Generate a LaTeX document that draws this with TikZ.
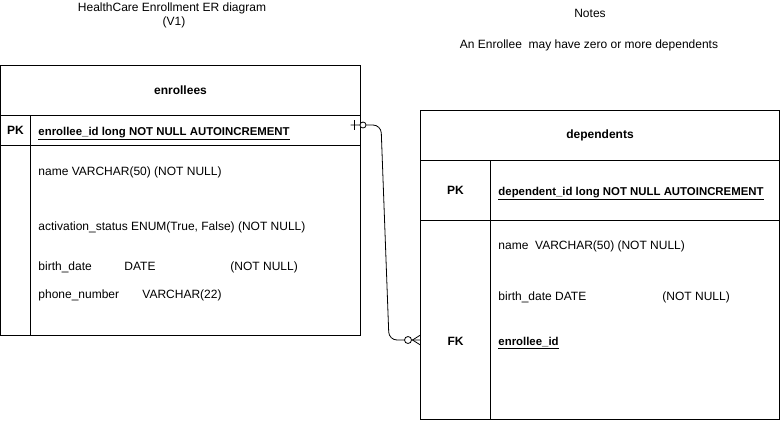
\documentclass[tikz,border=0pt]{standalone}
\usepackage{fontspec}
\setmainfont{Liberation Sans}
\usetikzlibrary{positioning}

\begin{document}
\fontsize{12}{14}\selectfont
\begin{tikzpicture}[x=1pt,y=-1pt,line width=0.9pt]
    % Styles for the table cells and texts
    \tikzset{
        cell/.style={draw, inner sep=0pt, outer sep=0pt, anchor=north west},
        field/.style={anchor=base west, inner sep=0pt},
        keyfield/.style={field, font=\fontsize{11.4}{14}\selectfont\bfseries},
        keyname/.style={inner sep=0pt, font=\bfseries},
        relation/.style={line width=0.8pt, rounded corners=8}
    }
    \useasboundingbox (0,0) rectangle (781,421);
    % Title and notes
    \node (title) at (172,8) {HealthCare Enrollment ER diagram};
    \node (version) at (174,22) {(V1)};
    \node (notes) at (590,13) {Notes};
    \node (notetext) at (589,45) {An Enrollee\ \ may have zero or more dependents};
    % Table enrollees
    \node[cell, minimum width=360, minimum height=50] (enrHead) at (0.5,65.5) {\bfseries enrollees};
    \node[cell, minimum width=30, minimum height=30] (enrPKKey) at (enrHead.south west) {\bfseries PK};
    \node[cell, minimum width=330, minimum height=30] (enrPK) at (enrPKKey.north east) {};
    \node[cell, minimum width=30, minimum height=190] (enrKeys) at (enrPKKey.south west) {};
    \node[cell, minimum width=330, minimum height=190] (enrFields) at (enrPK.south west) {};
    \node[keyfield] (enrPKText) at (38,135) {\underline{enrollee\_id long NOT NULL AUTOINCREMENT}};
    \foreach \i/\y/\txt in {1/175.5/{name VARCHAR(50) (NOT NULL)},
                            2/230.5/{activation\_status ENUM(True, False) (NOT NULL)},
                            3/270.5/{birth\_date},
                            4/298.5/{phone\_number}} {
        \node[field] (enrF\i) at (38,\y) {\txt};
    }
    \node[field] (enrF3type) at (124,270.5) {DATE};
    \node[field] (enrF3null) at (230,270.5) {(NOT NULL)};
    \node[field] (enrF4type) at (142,298.5) {VARCHAR(22)};
    % Table dependents
    \node[cell, minimum width=359, minimum height=50] (depHead) at (420.5,110.5) {\bfseries dependents};
    \node[cell, minimum width=70, minimum height=60] (depPKKey) at (depHead.south west) {\bfseries PK};
    \node[cell, minimum width=289, minimum height=60] (depPK) at (depPKKey.north east) {};
    \node[cell, minimum width=70, minimum height=199] (depKeys) at (depPKKey.south west) {};
    \node[cell, minimum width=289, minimum height=199] (depFields) at (depPK.south west) {};
    \node[keyfield] (depPKText) at (498,195) {\underline{dependent\_id long NOT NULL AUTOINCREMENT}};
    \node[field] (depF1) at (498,249.5) {name\ \ VARCHAR(50) (NOT NULL)};
    \node[field] (depF2) at (498,300.5) {birth\_date DATE};
    \node[field] (depF2null) at (662,300.5) {(NOT NULL)};
    \node[keyname] (depFKKey) at (455.5,341) {FK};
    \node[keyfield] (depFK) at (498,345.5) {\underline{enrollee\_id}};
    % Relation enrollees (zero or one) to dependents (zero or many)
    \coordinate (relStart) at ([xshift=-10pt,yshift=5.5pt]enrPK.east);
    \coordinate (bendA) at (381,125);
    \coordinate (bendB) at (389,340);
    \coordinate (relEnd) at (depKeys.west |- depFKKey);
    \draw[relation] (relStart) -- (bendA) -- (bendB) -- ([yshift=1pt]relEnd);
    \draw[line width=0.8pt] ([xshift=4pt,yshift=5pt]relStart) -- ([xshift=4pt,yshift=-5pt]relStart);
    \draw[line width=0.8pt, fill=white] (363,125) circle (3);
    \draw[line width=0.8pt] ([yshift=6pt]relEnd) -- ++(-8,5) -- ([yshift=-4pt]relEnd);
    \draw[line width=0.8pt, fill=white] (408,340) circle (3.5);
\end{tikzpicture}
\end{document}
